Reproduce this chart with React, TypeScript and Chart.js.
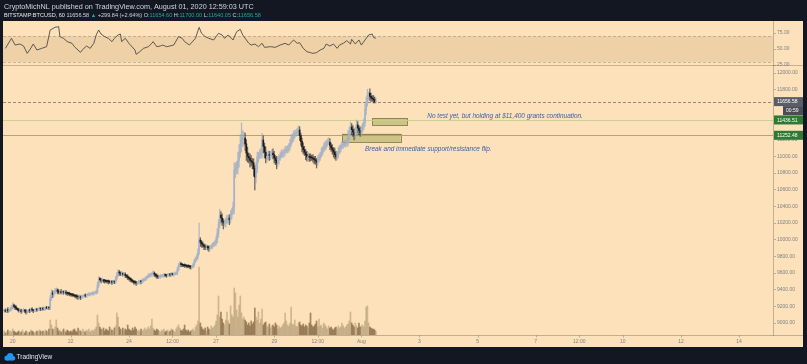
import React, { useEffect, useRef } from 'react';
import { Chart, registerables } from 'chart.js';

Chart.register(...registerables);

// hours counted from 20 Jul 2020 00:00 UTC, one candle per hour
const FIRST_HOUR = -7;

const closes: number[] = [
  // 19 Jul (17:00-23:00)
  9150, 9140, 9160, 9145, 9155, 9170, 9180,
  // 20 Jul
  9216, 9200, 9185, 9170, 9160, 9150, 9155, 9140, 9145, 9150, 9144, 9130, 9138, 9150, 9145, 9160, 9155, 9148, 9152, 9160, 9158, 9165, 9170, 9168,
  // 21 Jul
  9172, 9165, 9175, 9180, 9178, 9182, 9180, 9300, 9360, 9345, 9370, 9385, 9396, 9380, 9370, 9378, 9365, 9372, 9370, 9372, 9360, 9355, 9350, 9345,
  // 22 Jul
  9340, 9335, 9330, 9325, 9320, 9315, 9312, 9312, 9305, 9318, 9320, 9330, 9325, 9335, 9340, 9345, 9348, 9350, 9355, 9360, 9365, 9372, 9450, 9528,
  // 23 Jul
  9520, 9510, 9515, 9505, 9504, 9500, 9498, 9495, 9490, 9492, 9488, 9495, 9492, 9530, 9580, 9612, 9600, 9590, 9595, 9585, 9588, 9570, 9560, 9545,
  // 24 Jul
  9535, 9520, 9510, 9500, 9490, 9485, 9480, 9485, 9490, 9500, 9495, 9510, 9520, 9528, 9540, 9555, 9565, 9575, 9580, 9590, 9600, 9585, 9570, 9560,
  // 25 Jul
  9552, 9555, 9560, 9565, 9570, 9576, 9572, 9568, 9575, 9580, 9578, 9585, 9582, 9588, 9590, 9600, 9640, 9690, 9708, 9700, 9695, 9690, 9688, 9684,
  // 26 Jul
  9680, 9678, 9675, 9672, 9672, 9700, 9740, 9770, 9792, 9850, 9996, 9970, 9950, 9936, 9920, 9910, 9915, 9905, 9900, 9910, 9920, 9935, 9950, 9960,
  // 27 Jul
  10000, 10080, 10180, 10296, 10260, 10220, 10200, 10200, 10230, 10250, 10260, 10240, 10300, 10340, 10392, 10836, 10850, 10860, 10950, 11050, 11150, 11196, 11220, 11220,
  // 28 Jul
  11150, 11040, 11000, 10980, 10950, 10935, 10920, 10850, 10752, 10850, 10992, 11010, 11030, 11040, 11196, 11120, 11050, 10980, 11000, 11020, 11010, 11030, 11040, 11020,
  // 29 Jul
  10980, 10950, 10920, 10960, 10990, 11010, 11030, 11040, 11050, 11070, 11080, 11100, 11112, 11150, 11200, 11230, 11256, 11270, 11290, 11300, 11316, 11250, 11180, 11112,
  // 30 Jul
  11080, 11050, 11020, 10992, 11000, 10990, 10985, 10980, 10970, 10960, 10945, 10932, 10960, 10990, 11020, 11052, 11080, 11110, 11140, 11160, 11170, 11172, 11130, 11100,
  // 31 Jul
  11076, 11050, 11020, 10992, 11020, 11060, 11090, 11120, 11136, 11145, 11150, 11155, 11160, 11250, 11300, 11352, 11320, 11290, 11256, 11300, 11376, 11340, 11310, 11280,
  // 1 Aug (00:00-12:00)
  11320, 11360, 11400, 11560, 11652, 11736, 11760, 11720, 11700, 11690, 11680, 11654.6, 11656.58,
];

// wick lengths (USD) above the body and below the body of each candle
const upperWicks: number[] = [
  15, 20, 10, 25, 15, 20, 30,
  25, 10, 15, 20, 10, 15, 20, 10, 15, 25, 10, 20, 15, 10, 20, 15, 25, 10, 15, 20, 10, 15, 20, 10,
  15, 20, 10, 15, 20, 10, 15, 30, 40, 25, 20, 30, 25, 15, 20, 15, 25, 20, 10, 15, 20, 10, 15, 20,
  10, 15, 20, 10, 15, 20, 10, 25, 15, 20, 10, 15, 20, 10, 15, 20, 10, 15, 20, 10, 15, 25, 40, 30,
  20, 15, 25, 10, 20, 15, 10, 20, 15, 10, 20, 15, 10, 30, 25, 30, 20, 15, 25, 10, 20, 15, 10, 20,
  15, 10, 20, 15, 10, 20, 15, 10, 20, 15, 10, 20, 15, 10, 20, 15, 25, 20, 15, 20, 25, 15, 10, 20,
  15, 10, 20, 15, 10, 20, 15, 10, 20, 15, 10, 20, 15, 10, 20, 15, 30, 25, 30, 20, 15, 10, 20, 15,
  10, 20, 15, 10, 20, 15, 25, 20, 30, 40, 204, 30, 20, 25, 15, 20, 25, 15, 20, 15, 20, 25, 20, 30,
  40, 50, 60, 70, 40, 50, 30, 40, 35, 45, 30, 40, 50, 40, 60, 90, 70, 80, 100, 90, 110, 204, 90, 70,
  60, 50, 70, 40, 50, 60, 40, 50, 40, 80, 60, 40, 50, 60, 80, 50, 40, 60, 40, 50, 40, 30, 40, 50,
  40, 30, 50, 40, 30, 40, 50, 30, 40, 50, 40, 30, 40, 50, 60, 40, 50, 40, 30, 40, 50, 40, 30, 40,
  50, 40, 30, 40, 50, 30, 40, 30, 40, 30, 40, 30, 50, 40, 30, 50, 40, 50, 40, 30, 40, 50, 40, 30,
  40, 30, 50, 40, 30, 50, 40, 30, 40, 30, 40, 30, 50, 60, 50, 60, 40, 50, 40, 50, 60, 40, 30, 40,
  50, 40, 50, 70, 60, 70, 12, 50, 40, 30, 40, 30, 43.42,
];
const lowerWicks: number[] = [
  20, 10, 15, 20, 10, 15, 20,
  15, 20, 25, 10, 15, 20, 10, 25, 15, 10, 20, 25, 15, 10, 20, 10, 15, 25, 10, 15, 20, 10, 15, 20,
  20, 10, 15, 20, 10, 15, 20, 20, 30, 40, 25, 20, 15, 30, 20, 25, 15, 20, 25, 15, 20, 25, 15, 20,
  15, 20, 10, 15, 20, 25, 30, 20, 25, 15, 20, 10, 15, 20, 10, 15, 20, 10, 15, 20, 10, 15, 20, 25,
  25, 30, 15, 20, 25, 15, 20, 25, 15, 20, 25, 15, 20, 15, 20, 25, 30, 20, 25, 20, 15, 25, 20, 25,
  20, 25, 20, 15, 25, 20, 30, 20, 15, 20, 25, 15, 20, 15, 20, 15, 10, 20, 15, 20, 15, 25, 20, 25,
  20, 15, 20, 10, 15, 20, 15, 20, 10, 15, 20, 15, 10, 20, 15, 10, 20, 15, 20, 25, 20, 15, 20, 15,
  20, 15, 20, 25, 15, 10, 20, 15, 20, 25, 30, 50, 40, 30, 40, 30, 25, 30, 40, 25, 20, 25, 20, 25,
  30, 40, 50, 40, 60, 50, 70, 40, 50, 40, 50, 60, 40, 50, 40, 80, 90, 60, 70, 80, 60, 100, 80, 90,
  80, 90, 70, 60, 80, 50, 70, 90, 156, 70, 50, 60, 40, 50, 60, 80, 70, 60, 50, 40, 60, 50, 40, 50,
  60, 50, 70, 40, 50, 40, 30, 40, 50, 40, 30, 40, 50, 40, 30, 40, 50, 40, 30, 40, 50, 60, 50, 60,
  50, 40, 60, 50, 40, 50, 40, 30, 40, 50, 40, 72, 40, 30, 40, 30, 40, 30, 40, 50, 40, 30, 50, 40,
  50, 60, 50, 40, 30, 40, 30, 40, 30, 40, 30, 40, 30, 40, 50, 40, 60, 50, 60, 40, 50, 60, 50, 40,
  40, 30, 40, 40, 60, 50, 60, 50, 40, 30, 40, 14.55, 16.53,
];

const volumes: number[] = [
  40, 20, 30, 50, 30, 40, 30,
  60, 40, 30, 20, 30, 40, 20, 30, 50, 30, 20, 40, 30, 20, 30, 50, 40, 30, 20, 30, 40, 30, 50, 40,
  30, 40, 30, 50, 40, 30, 60, 150, 100, 60, 50, 80, 150, 70, 40, 50, 30, 40, 60, 40, 30, 50, 40, 30,
  40, 30, 50, 60, 40, 30, 70, 50, 40, 30, 60, 40, 30, 50, 40, 60, 30, 40, 50, 40, 60, 80, 200, 120,
  80, 60, 50, 70, 40, 60, 50, 40, 80, 60, 50, 40, 70, 90, 220, 180, 80, 60, 50, 70, 40, 60, 50, 100,
  60, 50, 40, 70, 50, 80, 60, 40, 50, 30, 60, 40, 50, 70, 50, 60, 80, 60, 90, 160, 70, 50, 40, 60,
  50, 40, 30, 50, 40, 60, 30, 40, 50, 30, 40, 60, 50, 40, 30, 60, 80, 100, 70, 50, 40, 60, 100, 50,
  40, 50, 30, 40, 50, 60, 40, 80, 100, 140, 680, 120, 80, 60, 50, 70, 40, 80, 60, 50, 90, 70, 80, 100,
  140, 200, 390, 180, 230, 160, 120, 100, 150, 230, 140, 110, 290, 200, 180, 470, 420, 250, 180, 300, 390, 220, 160, 180,
  150, 130, 100, 120, 90, 140, 110, 130, 270, 180, 150, 230, 120, 160, 260, 100, 120, 130, 90, 80, 110, 70, 90, 100,
  80, 120, 100, 60, 90, 70, 80, 100, 120, 220, 140, 100, 90, 120, 280, 110, 100, 150, 90, 80, 120, 130, 100, 90,
  110, 80, 100, 90, 70, 120, 220, 100, 80, 90, 110, 140, 80, 160, 90, 100, 70, 120, 100, 80, 60, 90, 70, 80,
  60, 50, 70, 80, 60, 90, 70, 80, 120, 90, 70, 80, 100, 110, 140, 230, 120, 100, 80, 120, 90, 70, 120, 80,
  90, 100, 80, 140, 280, 290, 120, 80, 70, 60, 60, 50, 40,
];

const rsiHours = [
  -6, -1, 2, 6, 9, 12, 14, 17, 20, 24, 28, 31, 35, 38, 39, 42, 45, 49, 51, 56, 58, 61, 64, 67, 69, 71, 73, 76, 79, 82,
  84, 87, 89, 90, 93, 96, 98, 101, 102, 105, 108, 112, 115, 116, 119, 122, 124, 127, 130, 133, 137, 140, 142, 146, 151,
  154, 156, 159, 162, 166, 170, 173, 175, 178, 182, 185, 188, 190, 193, 195, 197, 200, 203, 206, 208, 213, 217, 221, 225,
  228, 232, 235, 237, 240, 243, 246, 248, 251, 254, 257, 259, 262, 265, 268, 270, 273, 276, 279, 280, 283, 286, 288, 291,
  294, 297, 298, 300,
];
const rsiValues = [
  51.0, 66.7, 56.2, 57.8, 54.7, 43.2, 48.4, 57.8, 48.4, 51.0, 53.6, 79.7, 83.9, 84.9, 69.3, 66.7, 61.5, 58.9, 53.6, 44.8,
  49.5, 54.7, 51.0, 58.9, 71.9, 79.7, 73.4, 69.3, 66.7, 61.5, 66.7, 71.9, 73.4, 61.5, 66.7, 58.9, 54.7, 48.4, 41.7, 45.8,
  51.0, 53.6, 58.9, 61.5, 53.6, 54.7, 56.2, 53.6, 54.7, 56.2, 69.3, 66.7, 61.5, 56.2, 66.7, 83.9, 74.5, 69.3, 66.7, 64.1,
  74.5, 71.9, 66.7, 71.9, 64.1, 77.1, 80.7, 71.9, 64.1, 58.9, 56.2, 57.8, 53.6, 58.9, 52.6, 53.6, 52.6, 56.2, 58.9, 56.2,
  64.1, 58.9, 59.9, 51.0, 45.8, 44.3, 43.2, 44.3, 48.4, 51.0, 57.8, 54.7, 57.8, 51.0, 56.2, 58.9, 63.0, 57.8, 65.1, 57.8,
  64.1, 56.2, 64.1, 71.9, 73.4, 68.2, 66.7,
];

const xTickHours = [0, 48, 96, 132, 168, 216, 252, 288, 336, 384, 432, 468, 504, 552, 600];
const xTickLabels = ['20', '22', '24', '12:00', '27', '29', '12:00', 'Aug', '3', '5', '7', '12:00', '10', '12', '14'];
const priceTicks = [12000, 11800, 11200, 11000, 10800, 10600, 10400, 10200, 10000, 9800, 9600, 9400, 9200, 9000];
const rsiTicks = [75, 50, 25];

const lastPrice = 11656.58;
const levelPrices = [11436.51, 11252.48];
const zoneFromHours = [297, 272];
const zoneToHours = [326, 320.5];
const zoneLows = [11376, 11172];
const zoneHighs = [11456, 11272];
const noteTexts = [
  'No test yet, but holding at $11,400 grants continuation.',
  'Break and immediate support/resistance flip.',
];
const noteHours = [342.5, 291];
const notePrices = [11484, 11088];

const FONT = '"Liberation Sans", Arial, sans-serif';
const PEACH = '#fce1ba';
const DARK = '#131722';
const AXIS_LINE = 'rgba(125,112,95,0.45)';
const LABEL = '#7f8188';

function fitSize(ctx: CanvasRenderingContext2D, text: string, target: number, style: string) {
  ctx.font = `${style} 10px ${FONT}`;
  const w = ctx.measureText(text).width;
  return (10 * target) / w;
}

const tvPlugin = {
  id: 'tvDecor',
  beforeDraw(chart: any) {
    const { ctx, width, height, chartArea: ca, scales } = chart;
    ctx.save();
    ctx.fillStyle = DARK;
    ctx.fillRect(0, 0, width, height);
    ctx.fillStyle = PEACH;
    ctx.fillRect(3, 21, 800, 326);

    const r = scales.yRsi;
    const y70 = r.getPixelForValue(70);
    const y30 = r.getPixelForValue(30);
    ctx.fillStyle = 'rgba(185,145,95,0.2)';
    ctx.fillRect(ca.left, y70, ca.right - ca.left, y30 - y70);
    ctx.strokeStyle = 'rgba(150,140,130,0.5)';
    ctx.lineWidth = 1;
    ctx.setLineDash([3, 2]);
    [y70, y30].forEach((y) => {
      ctx.beginPath();
      ctx.moveTo(ca.left, Math.round(y) + 0.5);
      ctx.lineTo(ca.right, Math.round(y) + 0.5);
      ctx.stroke();
    });
    ctx.setLineDash([]);

    ctx.strokeStyle = 'rgba(190,165,125,0.8)';
    const sepY = Math.round(scales.y.top) + 0.5;
    ctx.beginPath();
    ctx.moveTo(3, sepY);
    ctx.lineTo(803, sepY);
    ctx.stroke();
    ctx.strokeStyle = AXIS_LINE;
    const by = Math.round(ca.bottom) + 0.5;
    ctx.beginPath();
    ctx.moveTo(3, by);
    ctx.lineTo(803, by);
    ctx.stroke();
    const xs = scales.x;
    xTickHours.forEach((h) => {
      const px = Math.round(xs.getPixelForValue(h)) + 0.5;
      ctx.beginPath();
      ctx.moveTo(px, by);
      ctx.lineTo(px, by + 2);
      ctx.stroke();
    });
    ctx.restore();
  },
  beforeDatasetsDraw(chart: any) {
    const { ctx, chartArea: ca, scales } = chart;
    const x = scales.x;
    const y = scales.y;
    ctx.save();
    for (let i = 0; i < zoneFromHours.length; i++) {
      const x0 = x.getPixelForValue(zoneFromHours[i]);
      const x1 = x.getPixelForValue(zoneToHours[i]);
      const y0 = y.getPixelForValue(zoneHighs[i]);
      const y1 = y.getPixelForValue(zoneLows[i]);
      ctx.fillStyle = 'rgba(165,170,95,0.55)';
      ctx.fillRect(x0, y0, x1 - x0, y1 - y0);
      ctx.strokeStyle = 'rgba(120,118,60,0.8)';
      ctx.lineWidth = 1;
      ctx.strokeRect(Math.round(x0) + 0.5, Math.round(y0) + 0.5, Math.round(x1 - x0), Math.round(y1 - y0));
    }
    const levelColors = ['rgba(200,205,140,0.95)', 'rgba(175,160,110,0.95)'];
    levelPrices.forEach((p, i) => {
      const py = Math.round(y.getPixelForValue(p)) + 0.5;
      ctx.strokeStyle = levelColors[i];
      ctx.beginPath();
      ctx.moveTo(ca.left, py);
      ctx.lineTo(ca.right, py);
      ctx.stroke();
    });
    const ly = Math.round(y.getPixelForValue(lastPrice)) + 0.5;
    ctx.strokeStyle = 'rgba(120,115,110,0.8)';
    ctx.setLineDash([3, 2]);
    ctx.beginPath();
    ctx.moveTo(ca.left, ly);
    ctx.lineTo(ca.right, ly);
    ctx.stroke();
    ctx.setLineDash([]);
    ctx.restore();
  },
  afterDraw(chart: any) {
    const { ctx, scales } = chart;
    const x = scales.x;
    const y = scales.y;
    ctx.save();
    ctx.textBaseline = 'middle';

    ctx.fillStyle = '#3d5eab';
    noteTexts.forEach((t, i) => {
      const s = fitSize(ctx, t, i === 0 ? 156 : 127, 'italic');
      ctx.font = `italic ${s}px ${FONT}`;
      ctx.textAlign = 'left';
      ctx.fillText(t, x.getPixelForValue(noteHours[i]), y.getPixelForValue(notePrices[i]));
    });

    const boxes = [
      { p: lastPrice, c: '#5a5d67' },
      { p: levelPrices[0], c: '#2f7a33' },
      { p: levelPrices[1], c: '#2f7a33' },
    ];
    ctx.font = `5px ${FONT}`;
    boxes.forEach((b) => {
      const py = y.getPixelForValue(b.p);
      ctx.fillStyle = b.c;
      ctx.fillRect(774, py - 4.5, 29, 9);
      ctx.fillStyle = '#ffffff';
      ctx.fillText(b.p.toFixed(2), 777, py + 0.3);
    });
    const ly = y.getPixelForValue(lastPrice);
    ctx.fillStyle = '#4a4d57';
    ctx.fillRect(783, ly + 4.5, 20, 9);
    ctx.fillStyle = '#ffffff';
    ctx.fillText('00:59', 786, ly + 9.3);

    const line1 = 'CryptoMichNL published on TradingView.com, August 01, 2020 12:59:03 UTC';
    const s1 = fitSize(ctx, line1, 250, '');
    ctx.font = `${s1}px ${FONT}`;
    ctx.fillStyle = '#d1d4dc';
    ctx.fillText(line1, 4, 7);
    const parts: [string, string][] = [
      ['BITSTAMP:BTCUSD, 60 ', '#e8eaf0'],
      ['11656.58 ', '#d1d4dc'],
      ['\u25B2 ', '#26a69a'],
      ['+299.84 (+2.64%) ', '#d1d4dc'],
      ['O:', '#d1d4dc'],
      ['11654.60', '#26a69a'],
      [' H:', '#d1d4dc'],
      ['11700.00', '#26a69a'],
      [' L:', '#d1d4dc'],
      ['11640.05', '#26a69a'],
      [' C:', '#d1d4dc'],
      ['11656.58', '#26a69a'],
    ];
    const full = parts.map((p) => p[0]).join('');
    const s2 = fitSize(ctx, full, 257, '');
    ctx.font = `${s2}px ${FONT}`;
    let cx = 4;
    parts.forEach(([t, c]) => {
      ctx.fillStyle = c;
      ctx.fillText(t, cx, 15);
      cx += ctx.measureText(t).width;
    });

    ctx.fillStyle = '#2196f3';
    ctx.beginPath();
    ctx.arc(7, 358, 2.6, 0, Math.PI * 2);
    ctx.arc(10.2, 356.2, 3.2, 0, Math.PI * 2);
    ctx.arc(13, 358.2, 2.3, 0, Math.PI * 2);
    ctx.fill();
    ctx.fillRect(7, 357.5, 6, 3);
    ctx.fillStyle = '#e0e3eb';
    ctx.font = `6.5px ${FONT}`;
    ctx.fillText('TradingView', 16.5, 357.5);
    ctx.restore();
  },
};

export default function App() {
  const ref = useRef<HTMLCanvasElement | null>(null);
  useEffect(() => {
    if (!ref.current) return;
    const candles = closes.map((c, i) => {
      const h = FIRST_HOUR + i;
      const o = i === 0 ? c : closes[i - 1];
      const hi = Math.max(o, c) + upperWicks[i];
      const lo = Math.min(o, c) - lowerWicks[i];
      return { x: h, body: [Math.min(o, c), Math.max(o, c)], wick: [lo, hi], up: c >= o };
    });
    const chart = new Chart(ref.current, {
      type: 'bar',
      data: {
        datasets: [
          {
            type: 'line',
            data: rsiHours.map((h, i) => ({ x: h, y: rsiValues[i] })),
            xAxisID: 'x',
            yAxisID: 'yRsi',
            borderColor: '#4f4b46',
            borderWidth: 0.9,
            pointRadius: 0,
            tension: 0,
            order: 0,
          } as any,
          {
            type: 'bar',
            data: candles.map((c) => ({ x: c.x, y: c.body })),
            xAxisID: 'x',
            yAxisID: 'y',
            backgroundColor: candles.map((c) => (c.up ? '#a3b3cc' : '#1b1b1e')),
            barThickness: 1,
            minBarLength: 1,
            grouped: false,
            order: 1,
          } as any,
          {
            type: 'bar',
            data: candles.map((c) => ({ x: c.x, y: c.wick })),
            xAxisID: 'x',
            yAxisID: 'y',
            backgroundColor: candles.map((c) => (c.up ? 'rgba(150,165,192,0.7)' : 'rgba(45,45,50,0.7)')),
            barThickness: 0.6,
            grouped: false,
            order: 2,
          } as any,
          {
            type: 'bar',
            data: volumes.map((v, i) => ({ x: FIRST_HOUR + i, y: v })),
            xAxisID: 'x',
            yAxisID: 'yVol',
            backgroundColor: candles.map((c) => (c.up ? 'rgba(170,148,110,0.55)' : 'rgba(130,102,65,0.75)')),
            barThickness: 1,
            grouped: false,
            order: 3,
          } as any,
        ],
      },
      options: {
        animation: false,
        responsive: false,
        maintainAspectRatio: false,
        layout: { padding: { left: 3, top: 21, right: 4, bottom: 17 } },
        plugins: { legend: { display: false }, tooltip: { enabled: false } },
        scales: {
          x: {
            type: 'linear',
            min: -8,
            max: 628,
            offset: false,
            position: 'bottom',
            grid: { display: false, drawTicks: false, offset: false },
            border: { display: false },
            afterBuildTicks: (s: any) => {
              s.ticks = xTickHours.map((v) => ({ value: v }));
            },
            afterFit: (s: any) => {
              s.height = 12;
            },
            ticks: {
              autoSkip: false,
              maxRotation: 0,
              padding: 4,
              color: LABEL,
              font: { size: 5, family: FONT },
              callback: (v: any) => {
                const k = xTickHours.indexOf(Number(v));
                return k >= 0 ? xTickLabels[k] : '';
              },
            },
          },
          yRsi: {
            type: 'linear',
            position: 'right',
            stack: 'panes',
            stackWeight: 44,
            min: 25,
            max: 93.75,
            grid: { drawOnChartArea: false, drawTicks: true, tickLength: 3, color: AXIS_LINE },
            border: { display: true, color: AXIS_LINE },
            afterBuildTicks: (s: any) => {
              s.ticks = rsiTicks.map((v) => ({ value: v }));
            },
            afterFit: (s: any) => {
              s.width = 30;
            },
            ticks: {
              padding: 1,
              color: LABEL,
              font: { size: 5, family: FONT },
              callback: (v: any) => Number(v).toFixed(2),
            },
          },
          y: {
            type: 'linear',
            position: 'right',
            stack: 'panes',
            stackWeight: 270,
            min: 8856,
            max: 12096,
            grid: { drawOnChartArea: false, drawTicks: true, tickLength: 3, color: AXIS_LINE },
            border: { display: true, color: AXIS_LINE },
            afterBuildTicks: (s: any) => {
              s.ticks = priceTicks.map((v) => ({ value: v }));
            },
            afterFit: (s: any) => {
              s.width = 30;
            },
            ticks: {
              padding: 1,
              color: LABEL,
              font: { size: 5, family: FONT },
              callback: (v: any) => Number(v).toFixed(2),
            },
          },
          yVol: {
            type: 'linear',
            display: false,
            min: 0,
            max: 3140,
          },
        },
      } as any,
      plugins: [tvPlugin as any],
    });
    return () => chart.destroy();
  }, []);
  return (
    <div style={{ position: 'fixed', left: 0, top: 0, width: 807, height: 364 }}>
      <canvas ref={ref} width={807} height={364} style={{ display: 'block', width: 807, height: 364 }} />
    </div>
  );
}
